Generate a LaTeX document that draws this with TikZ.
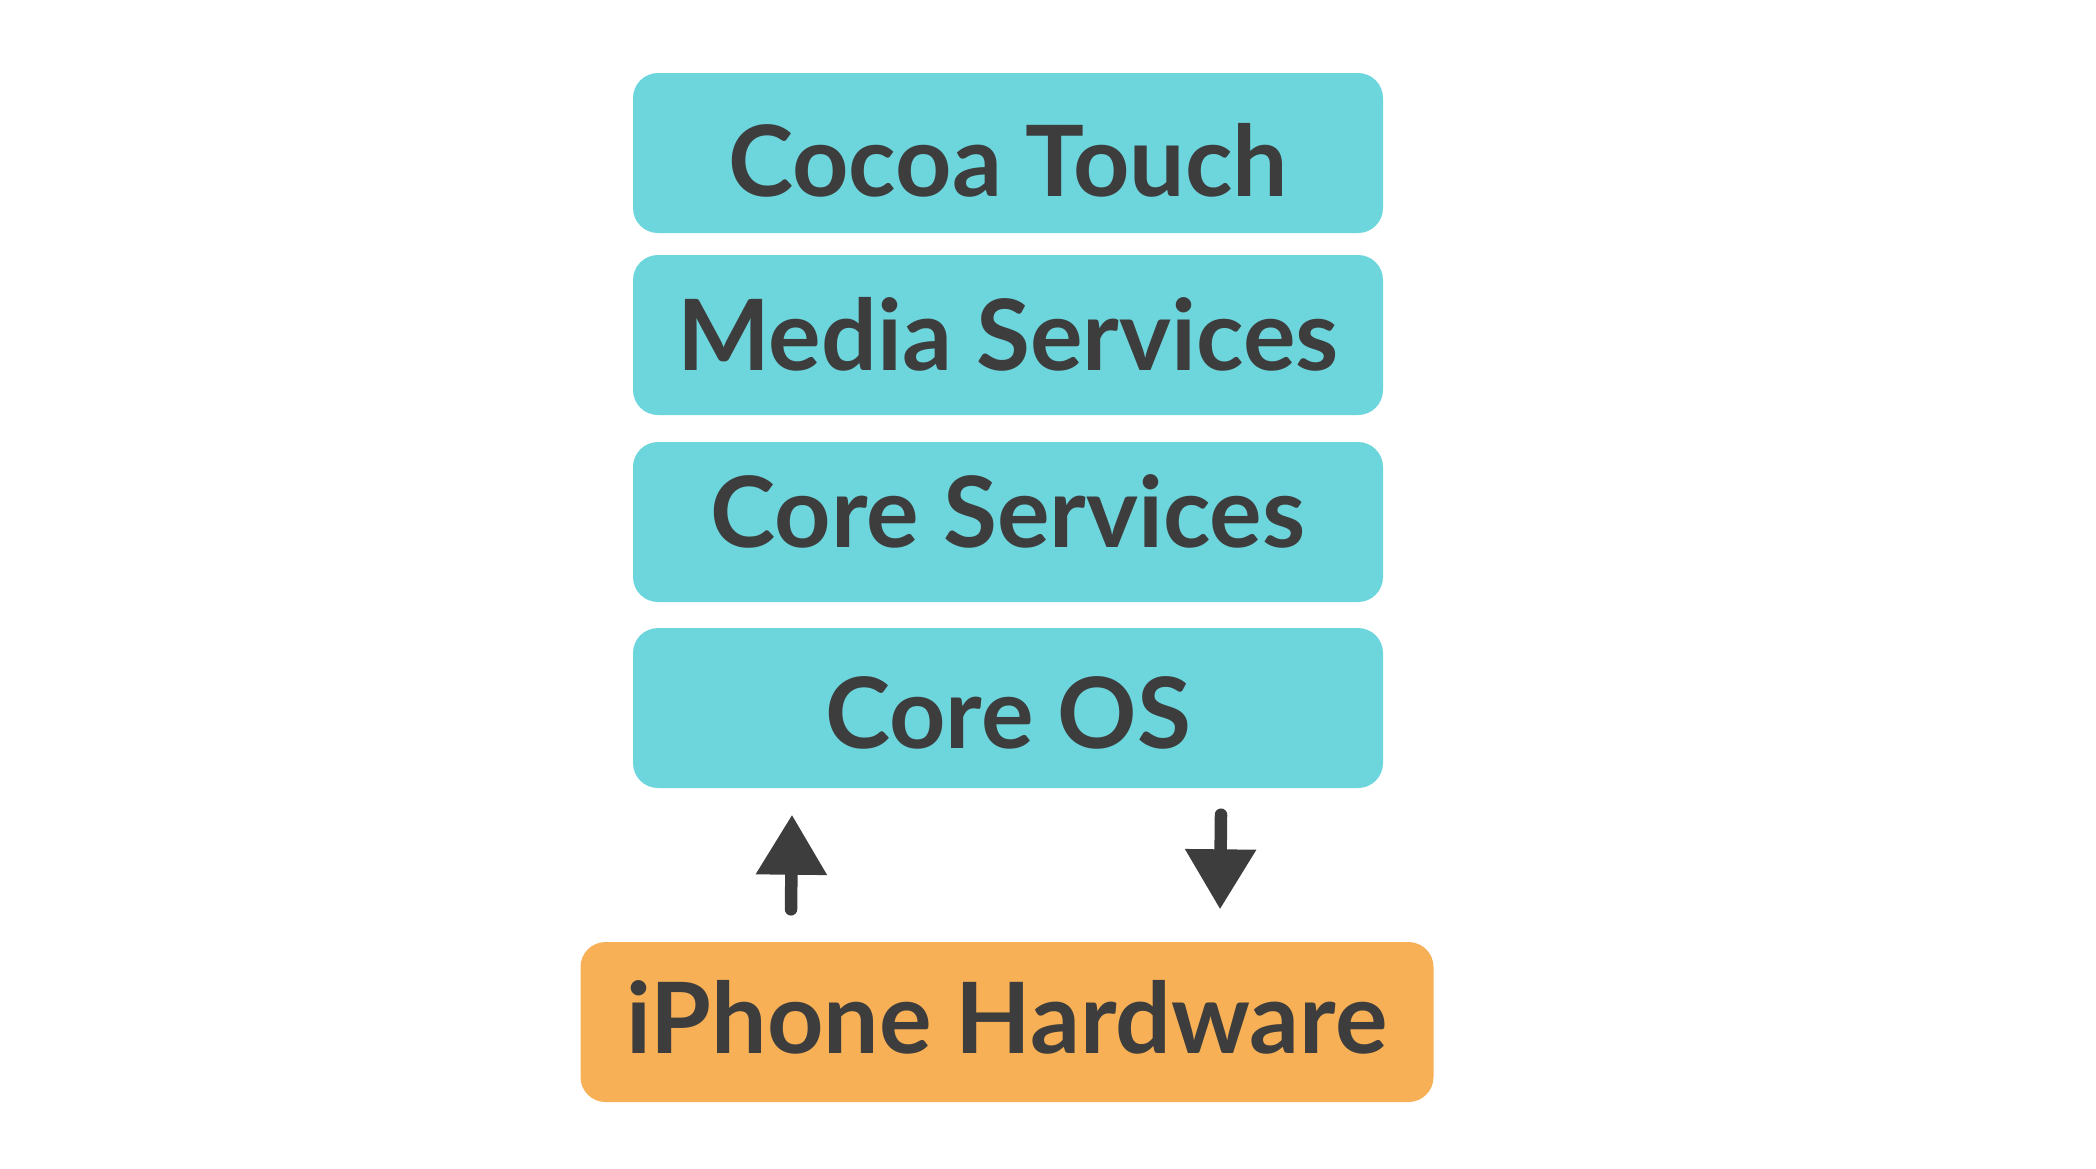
\documentclass[tikz,border=0pt]{standalone}
\usepackage{fontspec}
\setmainfont{Lato}
\usetikzlibrary{arrows.meta}
\definecolor{layer}{HTML}{6DD5DC}
\definecolor{hardware}{HTML}{F7B055}
\definecolor{ink}{HTML}{3D3D3D}

\begin{document}
\begin{tikzpicture}

        \useasboundingbox (0,0) rectangle (20.96,-11.68);

        % drop = how far the baseline sits below the box centre (doubled)
        \begin{scope}[every node/.style={rounded corners=0.25cm, inner sep=0pt, minimum height=1.6cm, text depth=0pt, text=ink, font=\fontsize{28}{34}\selectfont\bfseries},
                      drop/.style={text height=#1}]
          \node[fill=layer, minimum width=7.5cm, drop=0.86cm] (touch) at (10.08,-1.53)  {Cocoa Touch};
          \node[fill=layer, minimum width=7.5cm, drop=0.70cm] (media) at (10.08,-3.35)  {Media Services};
          \node[fill=layer, minimum width=7.5cm, drop=0.50cm] (core)  at (10.08,-5.22)  {Core Services};
          \node[fill=layer, minimum width=7.5cm, drop=0.80cm] (os)    at (10.08,-7.08)  {Core OS};
          \node[fill=hardware, minimum width=8.53cm, drop=0.62cm] (hw) at (10.07,-10.22) {iPhone Hardware};
        \end{scope}

        \begin{scope}[ink, line width=0.125cm, line cap=round, -{Triangle[width=0.68cm, length=0.6cm]}]
          \draw ([xshift=-2.16cm, yshift=0.32cm]hw.north) -- ([xshift=-2.16cm, yshift=-0.26cm]os.south);
          \draw ([xshift=2.13cm, yshift=-0.26cm]os.south) -- ([xshift=2.13cm, yshift=0.32cm]hw.north);
        \end{scope}

      \end{tikzpicture}
\end{document}
